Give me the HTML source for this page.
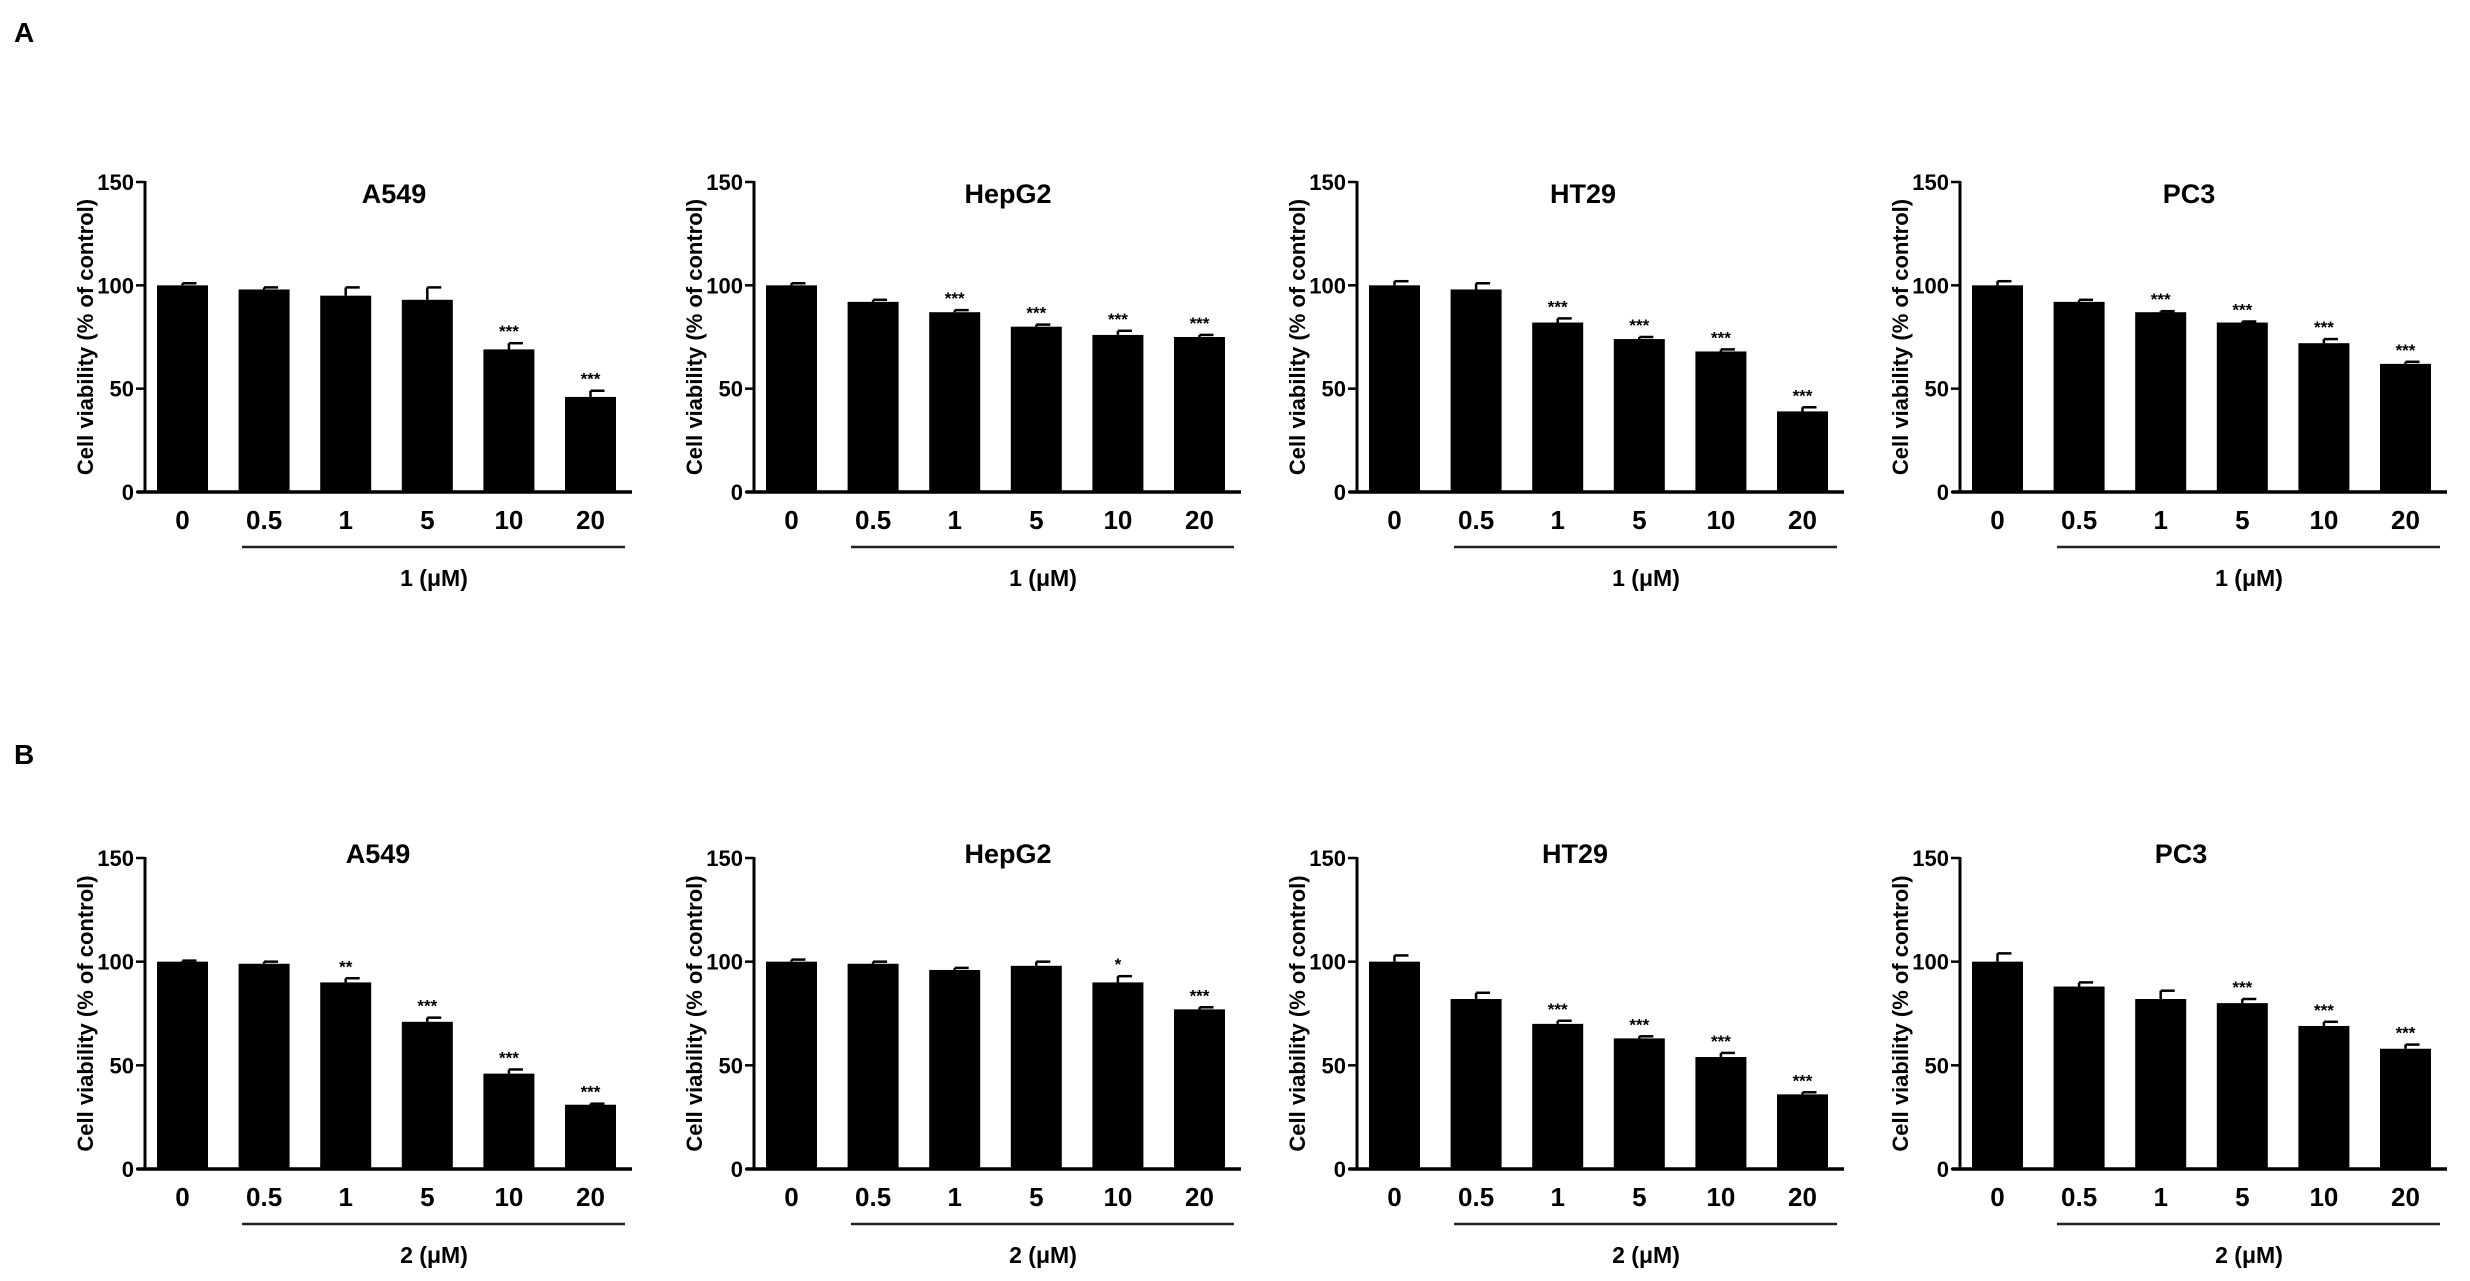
<!DOCTYPE html>
<html><head><meta charset="utf-8"><style>
html,body{margin:0;padding:0;background:#fff}
svg{display:block}
text{font-family:"Liberation Sans",Arial,sans-serif;font-weight:bold;fill:#000}
</style></head><body>
<svg id="fig" width="2470" height="1281" viewBox="0 0 2470 1281" xmlns="http://www.w3.org/2000/svg">
<text x="14" y="42" font-size="28">A</text>
<text x="14" y="764" font-size="28">B</text>
</svg>
<script>
const categories = ["0","0.5","1","5","10","20"];
const yTicks = [0,50,100,150];
const cellLines = ["A549","HepG2","HT29","PC3"];
const a549A = [100,98,95,93,69,46];
const a549AErr = [1,1,4,6,3,3];
const a549AStars = ["","","","","***","***"];
const hepg2A = [100,92,87,80,76,75];
const hepg2AErr = [1,1,1,1,2,1];
const hepg2AStars = ["","","***","***","***","***"];
const ht29A = [100,98,82,74,68,39];
const ht29AErr = [2,3,2,1,1,2];
const ht29AStars = ["","","***","***","***","***"];
const pc3A = [100,92,87,82,72,62];
const pc3AErr = [2,1,0.5,0.5,2,1];
const pc3AStars = ["","","***","***","***","***"];
const a549B = [100,99,90,71,46,31];
const a549BErr = [0.5,1,2,2,2,0.5];
const a549BStars = ["","","**","***","***","***"];
const hepg2B = [100,99,96,98,90,77];
const hepg2BErr = [1,1,1,2,3,1];
const hepg2BStars = ["","","","","*","***"];
const ht29B = [100,82,70,63,54,36];
const ht29BErr = [3,3,1.5,1,2,1];
const ht29BStars = ["","","***","***","***","***"];
const pc3B = [100,88,82,80,69,58];
const pc3BErr = [4,2,4,2,2,2];
const pc3BStars = ["","","","***","***","***"];
const compoundA = "1 (μM)";
const compoundB = "2 (μM)";

const NS = "http://www.w3.org/2000/svg";
const svg = document.getElementById("fig");
function mk(tag, attrs, parent){const e=document.createElementNS(NS,tag);for(const k in attrs)e.setAttribute(k,attrs[k]);(parent||svg).appendChild(e);return e;}

const panels = [
 {row:0,x0:145,title:cellLines[0],tx:249,v:a549A,e:a549AErr,s:a549AStars,sub:compoundA},
 {row:0,x0:754,title:cellLines[1],tx:254,v:hepg2A,e:hepg2AErr,s:hepg2AStars,sub:compoundA},
 {row:0,x0:1357,title:cellLines[2],tx:226,v:ht29A,e:ht29AErr,s:ht29AStars,sub:compoundA},
 {row:0,x0:1960,title:cellLines[3],tx:229,v:pc3A,e:pc3AErr,s:pc3AStars,sub:compoundA},
 {row:1,x0:145,title:cellLines[0],tx:233,v:a549B,e:a549BErr,s:a549BStars,sub:compoundB},
 {row:1,x0:754,title:cellLines[1],tx:254,v:hepg2B,e:hepg2BErr,s:hepg2BStars,sub:compoundB},
 {row:1,x0:1357,title:cellLines[2],tx:218,v:ht29B,e:ht29BErr,s:ht29BStars,sub:compoundB},
 {row:1,x0:1960,title:cellLines[3],tx:221,v:pc3B,e:pc3BErr,s:pc3BStars,sub:compoundB}
];
const rows = [{top:182,base:492,ty:193},{top:858,base:1169,ty:853}];

panels.forEach((p,pi)=>{
  const r = rows[p.row];
  const g = mk("g",{});
  
  
  const y = v => r.base - (v/150)*(r.base-r.top);
  const bx = i => p.x0 + 12 + i*81.6;
  const bw = 51;
  p.v.forEach((val,i)=>{
    const top = y(val);
    const errTop = y(val + p.e[i]);
    const cx = bx(i)+bw/2;
    const eb = mk("line",{x1:cx,x2:cx,y1:top,y2:errTop,stroke:"#000","stroke-width":2.5},g);
    
    
    const cap = mk("line",{x1:cx,x2:cx+14,y1:errTop,y2:errTop,stroke:"#000","stroke-width":2.5},g);
    
    
    const b = mk("rect",{x:bx(i),y:top,width:bw,height:r.base-top,fill:"#000"},g);
    
    
    if(p.s[i]){
      const st = mk("text",{x:cx,y:errTop-6,"font-size":17,"text-anchor":"middle"},g);
      st.textContent = p.s[i];
      
      
    }
    const lab = mk("text",{x:cx,y:r.base+37,"font-size":26,"text-anchor":"middle"},g);
    lab.textContent = categories[i];
    
    
  });
  const ya = mk("line",{x1:p.x0,x2:p.x0,y1:r.top-1,y2:r.base+1.5,stroke:"#000","stroke-width":3},g);
  
  
  const xa = mk("line",{x1:p.x0-8,x2:p.x0+487,y1:r.base,y2:r.base,stroke:"#000","stroke-width":3.5},g);
  
  
  yTicks.forEach(t=>{
    const tk = mk("line",{x1:p.x0-9,x2:p.x0,y1:y(t),y2:y(t),stroke:"#000","stroke-width":2.5},g);
    
    
    const tl = mk("text",{x:p.x0-11,y:y(t)+8,"font-size":22,"text-anchor":"end"},g);
    tl.textContent = t;
    
    
  });
  const yt = mk("text",{x:0,y:0,"font-size":22,"text-anchor":"middle",transform:`translate(${p.x0-52},${(r.top+r.base)/2}) rotate(-90)`},g);
  yt.textContent = "Cell viability (% of control)";
  
  
  const tt = mk("text",{x:p.x0+p.tx,y:r.ty+10,"font-size":27,"text-anchor":"middle"},g);
  tt.textContent = p.title;
  
  
  const ul = mk("line",{x1:p.x0+97,x2:p.x0+480,y1:r.base+55,y2:r.base+55,stroke:"#222","stroke-width":2.5},g);
  
  
  const sb = mk("text",{x:p.x0+289,y:r.base+94,"font-size":23,"text-anchor":"middle"},g);
  sb.textContent = p.sub;
  
  
});
</script>
</body></html>
